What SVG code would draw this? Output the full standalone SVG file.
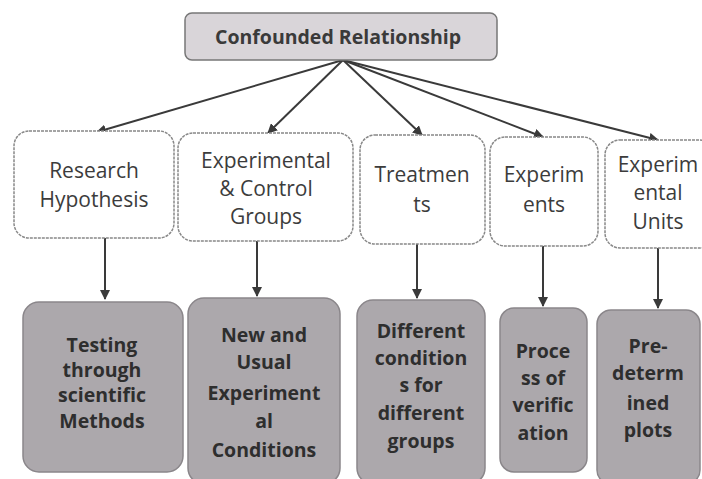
<svg xmlns="http://www.w3.org/2000/svg" width="702" height="479" viewBox="0 0 702 479">
<defs>
<marker id="ah" markerWidth="10" markerHeight="10" refX="9" refY="5" orient="auto" markerUnits="userSpaceOnUse">
<path d="M0,0 L10,5 L0,10 z" fill="#3a3a3a"/>
</marker>
<style>
.top{fill:#d9d5d9;stroke:#777;stroke-width:1.5}
.mid{fill:#fff;stroke:#888;stroke-width:1.5;stroke-dasharray:3 1}
.bot{fill:#aca8ac;stroke:#8a868a;stroke-width:1.5}
.t{font-family:"Open Sans","Noto Sans",sans-serif;text-anchor:middle;fill:#3c3c3c}
.tt{font-size:19.5px;font-weight:bold;fill:#3a3a3a}
.tm{font-size:21px;font-weight:500}
.tb{font-size:19.5px;font-weight:bold;fill:#2e2e2e}
.c{stroke:#3a3a3a;stroke-width:2;fill:none;marker-end:url(#ah)}
</style>
</defs>
<rect width="702" height="479" fill="#fff"/>
<g id="connectors">
<line class="c" x1="343" y1="60" x2="97" y2="132"/>
<line class="c" x1="343" y1="60" x2="268" y2="133"/>
<line class="c" x1="343" y1="60" x2="422" y2="135"/>
<line class="c" x1="343" y1="60" x2="543" y2="137"/>
<line class="c" x1="343" y1="60" x2="658" y2="140"/>
<line class="c" x1="105" y1="238" x2="105" y2="299"/>
<line class="c" x1="257" y1="241" x2="257" y2="296"/>
<line class="c" x1="417" y1="244" x2="417" y2="298"/>
<line class="c" x1="543" y1="246" x2="543" y2="306"/>
<line class="c" x1="658" y1="248" x2="658" y2="308"/>
</g>
<g id="n-root">
<rect class="top" x="185" y="13" width="312" height="47" rx="7"/>
<text class="t tt" x="338" y="44">Confounded Relationship</text>
</g>
<g id="n-research-hypothesis">
<rect class="mid" x="14" y="131" width="160" height="107" rx="15"/>
<text class="t tm" x="94" y="178">Research</text>
<text class="t tm" x="94" y="207">Hypothesis</text>
</g>
<g id="n-exp-control">
<rect class="mid" x="178" y="133" width="175" height="108" rx="15"/>
<text class="t tm" x="266" y="168">Experimental</text>
<text class="t tm" x="266" y="196">&amp; Control</text>
<text class="t tm" x="266" y="224">Groups</text>
</g>
<g id="n-treatments">
<rect class="mid" x="360" y="135" width="125" height="109" rx="15"/>
<text class="t tm" x="422" y="182">Treatmen</text>
<text class="t tm" x="422" y="212">ts</text>
</g>
<g id="n-experiments">
<rect class="mid" x="490" y="137" width="108" height="109" rx="15"/>
<text class="t tm" x="544" y="182">Experim</text>
<text class="t tm" x="544" y="212">ents</text>
</g>
<g id="n-exp-units">
<rect class="mid" x="605" y="140" width="110" height="108" rx="15"/>
<text class="t tm" x="658" y="172">Experim</text>
<text class="t tm" x="658" y="200">ental</text>
<text class="t tm" x="658" y="229">Units</text>
</g>
<g id="n-testing">
<rect class="bot" x="23" y="302" width="160" height="170" rx="16"/>
<text class="t tb" x="102" y="352">Testing</text>
<text class="t tb" x="102" y="377">through</text>
<text class="t tb" x="102" y="402">scientific</text>
<text class="t tb" x="102" y="428">Methods</text>
</g>
<g id="n-new-usual">
<rect class="bot" x="188" y="298" width="152" height="186" rx="16"/>
<text class="t tb" x="264" y="342">New and</text>
<text class="t tb" x="264" y="369">Usual</text>
<text class="t tb" x="264" y="400">Experiment</text>
<text class="t tb" x="264" y="428">al</text>
<text class="t tb" x="264" y="457">Conditions</text>
</g>
<g id="n-different">
<rect class="bot" x="357" y="300" width="128" height="184" rx="16"/>
<text class="t tb" x="421" y="338">Different</text>
<text class="t tb" x="421" y="365">condition</text>
<text class="t tb" x="421" y="392">s for</text>
<text class="t tb" x="421" y="420">different</text>
<text class="t tb" x="421" y="448">groups</text>
</g>
<g id="n-process">
<rect class="bot" x="500" y="308" width="87" height="164" rx="14"/>
<text class="t tb" x="543" y="358">Proce</text>
<text class="t tb" x="543" y="385">ss of</text>
<text class="t tb" x="543" y="412">verific</text>
<text class="t tb" x="543" y="440">ation</text>
</g>
<g id="n-predetermined">
<rect class="bot" x="597" y="310" width="103" height="174" rx="14"/>
<text class="t tb" x="648" y="353">Pre-</text>
<text class="t tb" x="648" y="380">determ</text>
<text class="t tb" x="648" y="410">ined</text>
<text class="t tb" x="648" y="437">plots</text>
</g>
</svg>
